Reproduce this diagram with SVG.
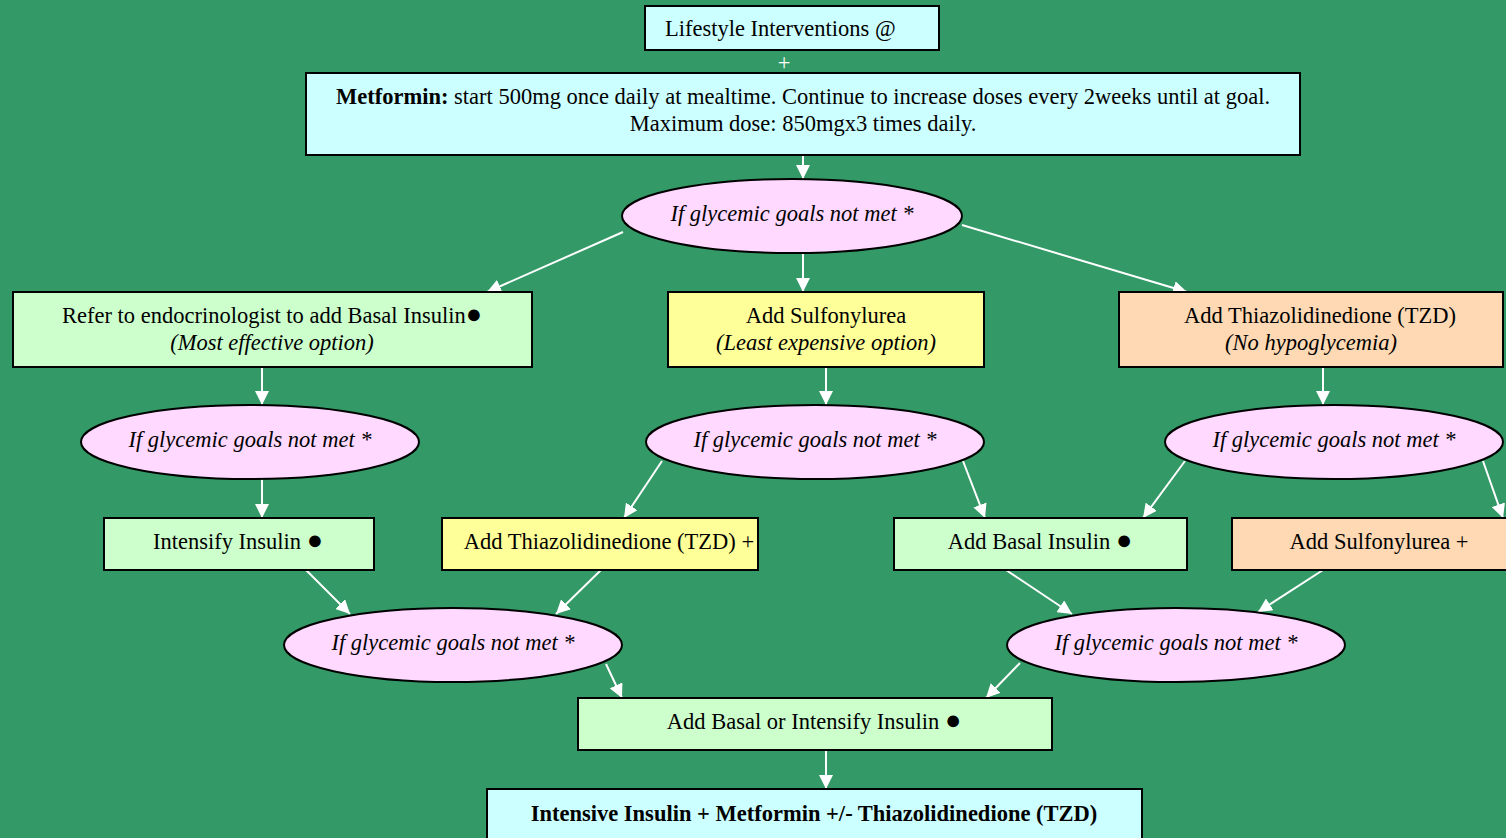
<svg xmlns="http://www.w3.org/2000/svg" width="1506" height="838" viewBox="0 0 1506 838">
<defs>
<marker id="ah" viewBox="0 0 10 10" refX="10" refY="5" markerWidth="14" markerHeight="14" markerUnits="userSpaceOnUse" orient="auto">
<path d="M0,0 L10,5 L0,10 z" fill="#ffffff"/>
</marker>
<style>
text{font-family:"Liberation Serif","Times New Roman",serif;font-size:22.5px;fill:#000;text-anchor:middle}
.b{stroke:#000;stroke-width:2}
.cy{fill:#ccffff}.gr{fill:#ccffcc}.ye{fill:#ffff99}.pe{fill:#ffd9b3}.pk{fill:#ffd9ff}
.i{font-style:italic}
.d{font-size:27px}
.c line{stroke:#fff;stroke-width:2;marker-end:url(#ah)}
</style>
</defs>
<rect width="1506" height="838" fill="#339966"/>
<g class="c" id="connectors">
<line x1="803" y1="155" x2="803" y2="179"/>
<line x1="623" y1="232" x2="487" y2="292"/>
<line x1="803" y1="253" x2="803" y2="292"/>
<line x1="962" y1="225" x2="1187" y2="292"/>
<line x1="262" y1="367" x2="262" y2="405"/>
<line x1="826" y1="367" x2="826" y2="405"/>
<line x1="1323" y1="367" x2="1323" y2="405"/>
<line x1="262" y1="479" x2="262" y2="518"/>
<line x1="662" y1="461" x2="624" y2="518"/>
<line x1="963" y1="461" x2="985" y2="518"/>
<line x1="1185" y1="461" x2="1143" y2="518"/>
<line x1="1483" y1="461" x2="1503" y2="518"/>
<line x1="306" y1="570" x2="350" y2="614"/>
<line x1="601" y1="570" x2="556" y2="614"/>
<line x1="1006" y1="570" x2="1072" y2="614"/>
<line x1="1323" y1="570" x2="1258" y2="612"/>
<line x1="606" y1="664" x2="622" y2="698"/>
<line x1="1020" y1="663" x2="986" y2="698"/>
<line x1="826" y1="750" x2="826" y2="789"/>
</g>
<text x="784" y="70" style="fill:#fff">+</text>
<g id="lifestyle"><rect x="645" y="6" width="294" height="44" class="b cy"/><text x="665" y="36" style="text-anchor:start">Lifestyle Interventions @</text></g>
<g id="metformin"><rect x="306" y="73" width="994" height="82" class="b cy"/>
<text x="803" y="104"><tspan font-weight="bold">Metformin:</tspan> start 500mg once daily at mealtime. Continue to increase doses every 2weeks until at goal.</text>
<text x="803" y="131">Maximum dose: 850mgx3 times daily.</text></g>
<g id="q1"><ellipse cx="792" cy="216" rx="170" ry="37" class="b pk"/><text x="792" y="221" class="i">If glycemic goals not met *</text></g>
<g id="refer"><rect x="13" y="292" width="519" height="75" class="b gr"/><text x="272" y="323">Refer to endocrinologist to add Basal Insulin<tspan class="d">●</tspan></text><text x="272" y="350" class="i">(Most effective option)</text></g>
<g id="sulfo"><rect x="668" y="292" width="316" height="75" class="b ye"/><text x="826" y="323">Add Sulfonylurea</text><text x="826" y="350" class="i">(Least expensive option)</text></g>
<g id="tzd"><rect x="1119" y="292" width="384" height="75" class="b pe"/><text x="1320" y="323">Add Thiazolidinedione (TZD)</text><text x="1311" y="350" class="i">(No hypoglycemia)</text></g>
<g id="q2l"><ellipse cx="250" cy="442" rx="169" ry="37" class="b pk"/><text x="250" y="447" class="i">If glycemic goals not met *</text></g>
<g id="q2m"><ellipse cx="815" cy="442" rx="169" ry="37" class="b pk"/><text x="815" y="447" class="i">If glycemic goals not met *</text></g>
<g id="q2r"><ellipse cx="1334" cy="442" rx="169" ry="37" class="b pk"/><text x="1334" y="447" class="i">If glycemic goals not met *</text></g>
<g id="intensify"><rect x="104" y="518" width="270" height="52" class="b gr"/><text x="238" y="549">Intensify Insulin <tspan class="d">●</tspan></text></g>
<g id="addtzd"><rect x="442" y="518" width="316" height="52" class="b ye"/><text x="609" y="549">Add Thiazolidinedione (TZD) +</text></g>
<g id="addbasal"><rect x="894" y="518" width="293" height="52" class="b gr"/><text x="1040" y="549">Add Basal Insulin <tspan class="d">●</tspan></text></g>
<g id="addsulfo"><rect x="1232" y="518" width="290" height="52" class="b pe"/><text x="1379" y="549">Add Sulfonylurea +</text></g>
<g id="q3l"><ellipse cx="453" cy="645" rx="169" ry="37" class="b pk"/><text x="453" y="650" class="i">If glycemic goals not met *</text></g>
<g id="q3r"><ellipse cx="1176" cy="645" rx="169" ry="37" class="b pk"/><text x="1176" y="650" class="i">If glycemic goals not met *</text></g>
<g id="basalor"><rect x="578" y="698" width="474" height="52" class="b gr"/><text x="814" y="729">Add Basal or Intensify Insulin <tspan class="d">●</tspan></text></g>
<g id="final"><rect x="487" y="789" width="655" height="70" class="b cy"/><text x="814" y="821" font-weight="bold">Intensive Insulin + Metformin +/- Thiazolidinedione (TZD)</text></g>
</svg>
